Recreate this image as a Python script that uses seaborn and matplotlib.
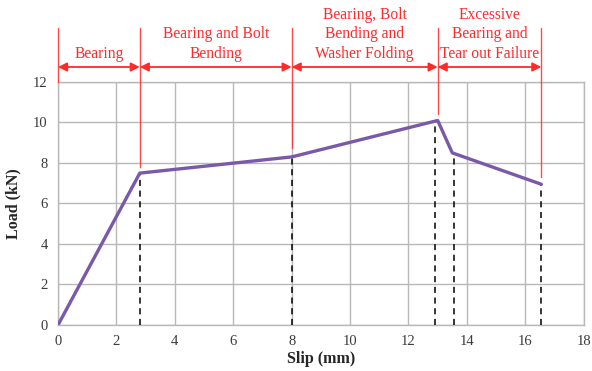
import matplotlib
matplotlib.use("Agg")
import matplotlib.pyplot as plt
import seaborn as sns
import pandas as pd

# Load-slip curve of the bolted connection
slip_mm = [0.0, 2.8, 8.0, 13.0, 13.5, 16.55]
load_kN = [0.0, 7.5, 8.3, 10.1, 8.5, 6.95]

# Dashed drop lines at the characteristic points
drop_x = [2.8, 8.0, 12.92, 13.55, 16.55]
drop_y = [7.5, 8.3, 10.1, 8.5, 6.95]

# Stage boundaries (red) and lower end of each red marker line
stage_x = [0.0, 2.8, 8.0, 13.0, 16.55]
stage_bottom = [12.0, 7.8, 8.75, 10.4, 7.3]
stage_labels = [
    "Bearing",
    "Bearing and Bolt\nBending",
    "Bearing, Bolt\nBending and\nWasher Folding",
    "Excessive\nBearing and\nTear out Failure",
]

x_ticks = [0, 2, 4, 6, 8, 10, 12, 14, 16, 18]
y_ticks = [0, 2, 4, 6, 8, 10, 12]

sns.set_style("white")
plt.rcParams["font.family"] = ["Liberation Serif", "DejaVu Serif"]

fig = plt.figure(figsize=(5.92, 3.71), dpi=100)
ax = fig.add_axes([0.098, 0.124, 0.888, 0.655])

grid_c = "#b8b8b8"
ax.set_xlim(0, 18)
ax.set_ylim(0, 12)
ax.set_xticks(x_ticks)
ax.set_yticks(y_ticks)
ax.grid(True, color=grid_c, linewidth=1.0)
ax.set_axisbelow(True)
for s in ax.spines.values():
    s.set_color(grid_c)
    s.set_linewidth(1.0)
ax.tick_params(axis="both", colors=grid_c, length=4, width=1.0,
               labelcolor="#3a3a3a", labelsize=10.5)

# dashed verticals
for x, y in zip(drop_x, drop_y):
    ax.plot([x, x], [0, y], color="black", linestyle=(0, (4, 3)),
            linewidth=1.1, zorder=3)

df = pd.DataFrame({"Slip (mm)": slip_mm, "Load (kN)": load_kN})
sns.lineplot(data=df, x="Slip (mm)", y="Load (kN)", ax=ax,
             color="#7a5aa8", linewidth=2.4, sort=False, zorder=4)

red = "#ff2a2a"
top_y = 14.65
arrow_y = 12.74
for x, yb in zip(stage_x, stage_bottom):
    ax.plot([x, x], [yb, top_y], color=red, linewidth=1.0,
            clip_on=False, zorder=5, alpha=0.85)
for i, label in enumerate(stage_labels):
    x0, x1 = stage_x[i], stage_x[i + 1]
    ax.annotate("", xy=(x1, arrow_y), xytext=(x0, arrow_y),
                arrowprops=dict(arrowstyle="<|-|>", color=red, lw=1.3,
                                mutation_scale=13, shrinkA=0, shrinkB=0),
                annotation_clip=False)
    ax.text((x0 + x1) / 2, 13.0, label, ha="center", va="bottom",
            color=red, fontsize=11.2, linespacing=1.3, clip_on=False)

ax.set_xlabel("Slip (mm)", fontsize=11.5, fontweight="bold", labelpad=2)
ax.set_ylabel("Load (kN)", fontsize=11.5, fontweight="bold", labelpad=8)

fig.savefig("out.png", dpi=100)
